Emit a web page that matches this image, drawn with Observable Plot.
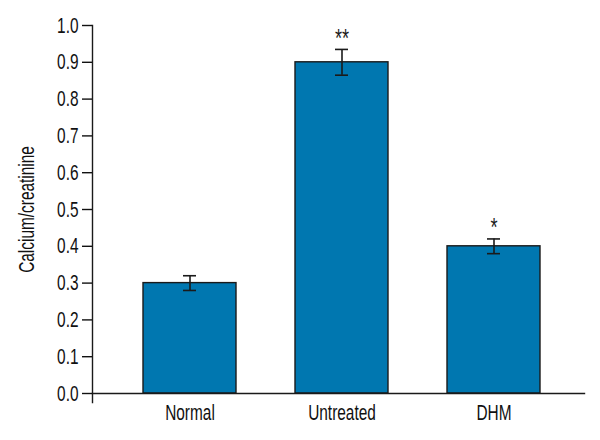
<!DOCTYPE html>
<html>
<head>
<meta charset="utf-8">
<script src="https://cdn.jsdelivr.net/npm/d3@7"></script>
<script src="https://cdn.jsdelivr.net/npm/@observablehq/plot@0.6"></script>
<style>
  html, body { margin: 0; padding: 0; background: #fff; }
  #chart svg { display: block; }
</style>
</head>
<body>
<div id="chart"></div>
<script>
const groups = ["Normal", "Untreated", "DHM"];
const means = [0.30, 0.90, 0.40];
const errors = [0.02, 0.035, 0.02];
const stars = ["", "**", "*"];
const yTicks = [0, 0.1, 0.2, 0.3, 0.4, 0.5, 0.6, 0.7, 0.8, 0.9, 1.0];

const data = groups.map((g, i) => ({
  group: g, mean: means[i], lo: means[i] - errors[i], hi: means[i] + errors[i], star: stars[i]
}));

const FONT = "'Liberation Sans', Arial, sans-serif";

const chart = Plot.plot({
  width: 600,
  height: 440,
  marginLeft: 92,
  marginRight: 16,
  marginTop: 25,
  marginBottom: 47,
  style: { fontFamily: FONT, fontSize: "22px", color: "#111", background: "#fff" },
  x: { domain: groups, paddingInner: 0.39, paddingOuter: 0.308, align: 0.534, label: null },
  y: { domain: [0, 1], label: null },
  marks: [
    Plot.barY(data, { x: "group", y: "mean", fill: "#0077b0", stroke: "#1a1a1a", strokeWidth: 1.4 }),
    Plot.ruleX(data, { x: "group", y1: "lo", y2: "hi", stroke: "#1a1a1a", strokeWidth: 1.6 }),
    Plot.tickY(data, { x: "group", y: "hi", stroke: "#1a1a1a", strokeWidth: 1.6, insetLeft: 40, insetRight: 40 }),
    Plot.tickY(data, { x: "group", y: "lo", stroke: "#1a1a1a", strokeWidth: 1.6, insetLeft: 40, insetRight: 40 }),
    Plot.text(data, { x: "group", y: "hi", text: "star", dy: -11, fontSize: 26, fill: "#1a1a1a" }),
    Plot.frame({ anchor: "left", stroke: "#1a1a1a", strokeWidth: 1.4, insetBottom: -9 }),
    Plot.frame({ anchor: "bottom", stroke: "#1a1a1a", strokeWidth: 1.4 }),
    Plot.axisY({ ticks: yTicks, tickFormat: d3.format(".1f"), tickSize: 10, tickPadding: 4, strokeWidth: 1.4,
      label: "Calcium/creatinine", labelAnchor: "center", labelArrow: "none", labelOffset: 74, fontSize: 22 }),
    Plot.axisX({ tickSize: 0, tickPadding: 11, fontSize: 22, label: null })
  ]
});
document.getElementById("chart").appendChild(chart);

// Emulate the condensed typeface of the original by narrowing each text run.
chart.querySelectorAll("text").forEach(t => {
  const w = t.getComputedTextLength();
  if (w > 0) {
    t.setAttribute("lengthAdjust", "spacingAndGlyphs");
    t.setAttribute("textLength", (w * 0.7).toFixed(2));
  }
});
</script>
</body>
</html>
